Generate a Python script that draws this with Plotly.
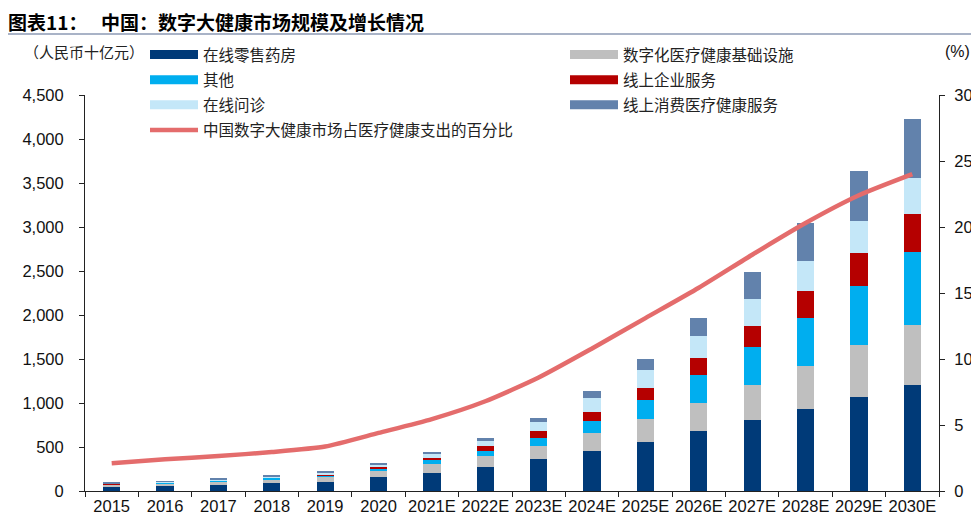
import plotly.graph_objects as go

# categories
years = ["2015", "2016", "2017", "2018", "2019", "2020", "2021E", "2022E",
         "2023E", "2024E", "2025E", "2026E", "2027E", "2028E", "2029E", "2030E"]

# market size by segment, RMB bn
online_pharmacy = [46, 57, 68, 91, 103, 156, 210, 273, 361, 456, 555, 680, 805, 931, 1071, 1204]
digital_infra = [27, 30, 40, 45, 60, 72, 102, 122, 148, 198, 262, 322, 402, 493, 589, 683]
others = [6, 6, 10, 12, 18, 23, 38, 57, 91, 140, 216, 316, 430, 546, 671, 824]
enterprise = [2, 2, 3, 3, 10, 22, 30, 57, 80, 106, 140, 193, 243, 305, 369, 432]
consultation = [8, 8, 13, 14, 18, 27, 38, 61, 106, 159, 202, 248, 300, 335, 372, 411]
consumer = [7, 7, 10, 10, 12, 19, 23, 30, 45, 77, 128, 208, 307, 439, 566, 679]

# share of healthcare spending, %
share_pct = [2.1, 2.4, 2.65, 2.95, 3.37, 4.4, 5.45, 6.8, 8.6, 10.8, 13.1, 15.4, 17.9, 20.3, 22.4, 24.0]

CJK = "Noto Sans CJK SC"
NUM = "Liberation Sans, Arial"

# segment name, values, colour, which legend column
segments = [
    ("在线零售药房", online_pharmacy, "#003A78", "legend"),
    ("数字化医疗健康基础设施", digital_infra, "#BFBFBF", "legend2"),
    ("其他", others, "#00AEEF", "legend"),
    ("线上企业服务", enterprise, "#B50000", "legend2"),
    ("在线问诊", consultation, "#C4E7F8", "legend"),
    ("线上消费医疗健康服务", consumer, "#6282AC", "legend2"),
]

fig = go.Figure()

for name, vals, color, lg in segments:
    fig.add_trace(go.Bar(x=years, y=vals, name=name, marker_color=color,
                         marker_line_width=0, showlegend=False))

# legend entries (wide rectangles like the original)
for i, (name, vals, color, lg) in enumerate(segments):
    fig.add_trace(go.Scatter(x=[None], y=[None], mode="lines", name=name,
                             line=dict(color=color, width=9), legend=lg,
                             legendgroup="g%d" % i))

fig.add_trace(go.Scatter(x=years, y=share_pct, yaxis="y2", mode="lines",
                         name="中国数字大健康市场占医疗健康支出的百分比",
                         line=dict(color="#E46C6C", width=4.5, shape="spline", smoothing=0.6),
                         legend="legend", legendgroup="line"))

# page pixel -> paper coords (plot area spans x 85..939, y 95..490.7 on the page)
def px_x(p):
    return (p - 85) / 854

def px_y(p):
    return (490.7 - p) / 395.7

legend_style = dict(font=dict(family=CJK, size=15.5, color="#222"), bgcolor="rgba(0,0,0,0)",
                    traceorder="grouped", tracegroupgap=2, xanchor="left", yanchor="top",
                    itemwidth=48)

# page body has an 8px margin, so the figure is 8px smaller and shifted
fig.update_layout(
    width=971, height=517,
    margin=dict(l=77, r=40, t=87, b=34, autoexpand=False),
    paper_bgcolor="white", plot_bgcolor="white",
    barmode="stack", bargap=0.676,
    legend=dict(x=px_x(145), y=px_y(38), **legend_style),
    legend2=dict(x=px_x(565), y=px_y(38), **legend_style),
    xaxis=dict(type="category", showline=True, linecolor="#222", linewidth=1,
               ticks="outside", tickson="boundaries", ticklen=5, tickcolor="#222",
               tickangle=0, automargin=False,
               tickfont=dict(family=NUM, size=16.5, color="#111"), showgrid=False),
    yaxis=dict(range=[0, 4500], dtick=500, tickformat=",", showline=True,
               linecolor="#222", linewidth=1, ticks="outside", ticklen=5, tickcolor="#222",
               tickfont=dict(family=NUM, size=16.5, color="#111"), showgrid=False,
               zeroline=False, ticklabelstandoff=12, automargin=False),
    yaxis2=dict(range=[0, 30], dtick=5, overlaying="y", side="right", showline=True,
                linecolor="#222", linewidth=1, ticks="outside", ticklen=5, tickcolor="#222",
                tickfont=dict(family=NUM, size=16.5, color="#111"), showgrid=False,
                zeroline=False, ticklabelstandoff=6, automargin=False),
)

fig.add_annotation(text="<b>图表11：</b>", xref="paper", yref="paper", x=px_x(7), y=px_y(22),
                   xanchor="left", yanchor="middle", showarrow=False, borderpad=0,
                   font=dict(family=CJK, size=19, color="#000"))
fig.add_annotation(text="<b>中国：数字大健康市场规模及增长情况</b>", xref="paper", yref="paper",
                   x=px_x(100), y=px_y(22), xanchor="left", yanchor="middle", showarrow=False,
                   borderpad=0, font=dict(family=CJK, size=19, color="#000"))
fig.add_annotation(text="（人民币十亿元）", xref="paper", yref="paper", x=px_x(22), y=px_y(52),
                   xanchor="left", yanchor="middle", showarrow=False,
                   font=dict(family=CJK, size=15, color="#222"))
fig.add_annotation(text="(%)", xref="paper", yref="paper", x=px_x(943), y=px_y(52),
                   xanchor="left", yanchor="middle", showarrow=False,
                   font=dict(family=NUM, size=16, color="#111"))

# rule under the title
fig.add_shape(type="line", xref="paper", yref="paper", x0=px_x(2), x1=px_x(977),
              y0=px_y(34), y1=px_y(34), line=dict(color="#8C9AB4", width=1.5))

fig.write_html("out.html")
